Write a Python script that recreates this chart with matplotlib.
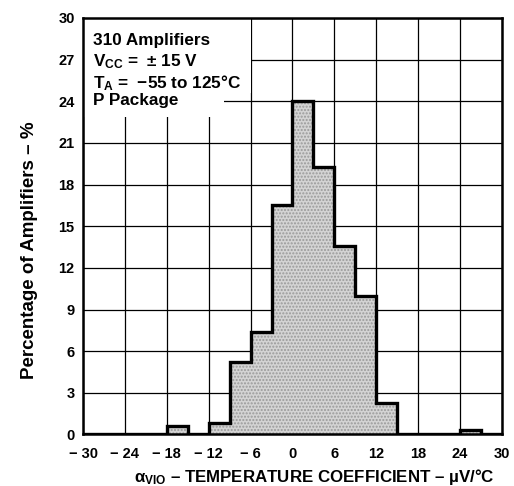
import matplotlib
matplotlib.use("Agg")
import matplotlib.pyplot as plt
from matplotlib.patches import Rectangle

plt.rcParams['font.family'] = ['Liberation Sans', 'DejaVu Sans']
plt.rcParams['font.weight'] = 'bold'
plt.rcParams['mathtext.fontset'] = 'custom'
plt.rcParams['mathtext.rm'] = 'Liberation Sans:bold'
plt.rcParams['mathtext.it'] = 'Liberation Sans:bold'
plt.rcParams['mathtext.bf'] = 'Liberation Sans:bold'

# bin edges (µV/°C) and percentage of amplifiers per bin
bin_edges = [-30, -27, -24, -21, -18, -15, -12, -9, -6, -3, 0, 3, 6, 9, 12, 15, 18, 21, 24, 27, 30]
percent = [0, 0, 0, 0, 0.6, 0, 0.85, 5.2, 7.4, 16.5, 24.0, 19.3, 13.6, 10.0, 2.3, 0, 0, 0, 0.3, 0]

x_ticks = [-30, -24, -18, -12, -6, 0, 6, 12, 18, 24, 30]
x_tick_labels = ['\u2212 30', '\u2212 24', '\u2212 18', '\u2212 12', '\u2212 6', '0', '6', '12', '18', '24', '30']
y_ticks = [0, 3, 6, 9, 12, 15, 18, 21, 24, 27, 30]

fig = plt.figure(figsize=(5.14, 4.86), dpi=100)
ax = fig.add_axes([0.1615, 0.106, 0.815, 0.857])

ax.set_xlim(-30, 30)
ax.set_ylim(0, 30)
ax.set_xticks(x_ticks)
ax.set_xticklabels(x_tick_labels)
ax.set_yticks(y_ticks)
ax.tick_params(length=0, labelsize=10.5)
ax.tick_params(axis='x', pad=9)
ax.tick_params(axis='y', pad=6)
for lab in ax.get_xticklabels() + ax.get_yticklabels():
    lab.set_fontweight('bold')

ax.grid(True, color='black', linewidth=0.9, zorder=0)
ax.set_axisbelow(True)

# white area behind the annotation block (interrupts the grid)
ax.add_patch(Rectangle((-30, 24.6), 24.1, 5.4, facecolor='white', edgecolor='none', zorder=1))
ax.add_patch(Rectangle((-30, 22.9), 20.2, 1.75, facecolor='white', edgecolor='none', zorder=1))

ax.stairs(percent, bin_edges, fill=True, facecolor='#d4d4d4', edgecolor='#9a9a9a',
          hatch='.....', linewidth=0, zorder=2)
ax.stairs(percent, bin_edges, fill=False, color='black', linewidth=2.4, baseline=0, zorder=3)

for s in ax.spines.values():
    s.set_linewidth(1.8)
    s.set_zorder(5)

lines = ['310 Amplifiers',
         r'V$_{\mathrm{CC}}$ =  ' + '\u00b1 15 V',
         r'T$_{\mathrm{A}}$ =  ' + '\u221255 to 125\u00b0C',
         'P Package']
ys = [28.05, 26.5, 24.95, 23.7]
for t, yv in zip(lines, ys):
    ax.text(-28.5, yv, t, fontsize=12.3, fontweight='bold', va='baseline', ha='left', zorder=4)

ax.set_xlabel(r'$\alpha$' + r'$_{\mathrm{VIO}}$' + ' \u2013 TEMPERATURE COEFFICIENT \u2013 \u00b5V/\u00b0C',
              fontsize=12.2, fontweight='bold')
ax.xaxis.set_label_coords(0.553, -0.102)
ax.xaxis.label.set_va('center')
ax.set_ylabel('Percentage of Amplifiers \u2013 %', fontsize=13.5, fontweight='bold')
ax.yaxis.set_label_coords(-0.127, 0.443)
ax.yaxis.label.set_va('center')

fig.savefig('out.png', dpi=100)
